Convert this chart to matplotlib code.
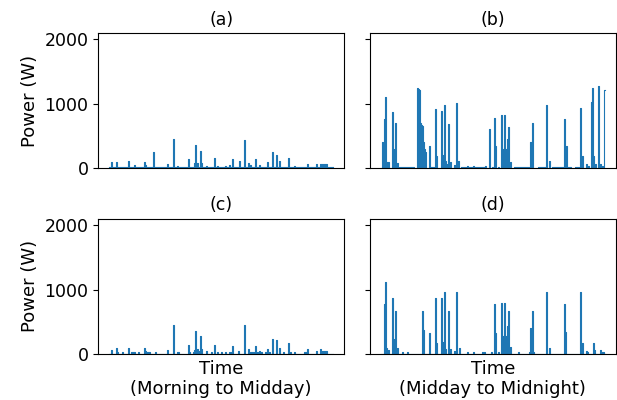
import matplotlib
matplotlib.use("Agg")
import matplotlib.pyplot as plt
import numpy as np

# Number of time samples per panel (one day split in two halves)
n_samples = 224

# (a) Morning to midday, aggregate
a_idx = [2, 7, 19, 25, 35, 36, 44, 58, 64, 68, 79, 85, 86, 88, 91, 92, 97, 105, 108,
         116, 120, 123, 130, 135, 139, 141, 146, 150, 158, 163, 167, 170, 179, 185,
         198, 207, 211, 212, 213, 214, 215, 216, 217, 222]
a_w = [93, 93, 120, 50, 100, 50, 255, 65, 460, 45, 140, 90, 362, 80, 275, 80, 45, 165, 45,
       45, 50, 140, 120, 440, 90, 50, 140, 50, 93, 255, 212, 120, 165, 45,
       65, 65, 65, 65, 65, 65, 65, 65, 65, 30]
a_base = [(0, 223, 25)]

# (b) Midday to midnight, aggregate
b_idx = [1, 3, 4, 5, 6, 7, 11, 12, 13, 14, 16, 36, 37, 38, 39, 40, 41, 42, 43, 44, 48,
         54, 55, 60, 61, 63, 64, 66, 67, 69, 73, 75, 77, 86, 92, 104, 108, 111, 113, 114,
         117, 120, 121, 122, 123, 124, 125, 126, 127, 129, 149, 150, 151, 165, 168, 183,
         185, 199, 201, 205, 207, 210, 211, 212, 214, 217, 219, 221, 223]
b_w = [406, 760, 1100, 94, 94, 94, 875, 300, 250, 708, 83, 1240, 1230, 1220, 708, 680,
       656, 411, 300, 250, 344, 917, 188, 896, 208, 990, 120, 70, 688, 95, 60, 1010, 110,
       40, 40, 45, 604, 30, 781, 344, 30, 823, 302, 302, 823, 302, 302, 458, 646, 95,
       406, 406, 708, 984, 110, 760, 344, 937, 188, 68, 45, 1031, 1240, 188, 68, 1281,
       68, 45, 1219]
b_base = [(18, 32, 30), (49, 52, 30), (80, 84, 30), (87, 104, 25), (133, 147, 25),
          (157, 164, 25), (171, 182, 25), (186, 189, 30), (194, 197, 25)]

# (c) Morning to midday, appliance
c_idx = [2, 7, 8, 13, 19, 29, 35, 36, 46, 58, 64, 79, 80, 84, 85, 86, 88, 89, 91, 92,
         97, 102, 105, 108, 112, 116, 120, 122, 123, 129, 135, 139, 146, 148, 150, 152,
         156, 158, 160, 163, 167, 170, 174, 179, 181, 185, 198, 207, 211]
c_w = [69, 96, 30, 25, 96, 30, 96, 50, 30, 69, 452, 138, 30, 30, 69, 356, 80, 40, 282, 85,
       45, 30, 138, 30, 30, 30, 30, 30, 122, 50, 452, 74, 122, 30, 50, 30,
       30, 74, 30, 234, 218, 96, 30, 170, 30, 30, 74, 50, 74]
c_base = [(22, 25, 32), (38, 40, 30), (68, 69, 30), (141, 144, 30), (195, 197, 30),
          (213, 217, 53)]

# (d) Midday to midnight, appliance
d_idx = [3, 4, 5, 7, 11, 13, 14, 16, 21, 26, 41, 42, 48, 54, 55, 60, 61, 63, 64, 67, 69,
         73, 75, 78, 86, 92, 101, 103, 110, 113, 114, 117, 120, 121, 122, 123, 124, 125,
         126, 127, 129, 137, 148, 149, 151, 152, 165, 168, 183, 184, 199, 201, 205, 206,
         212, 213, 219, 221, 222]
d_w = [768, 1110, 95, 60, 873, 226, 663, 90, 32, 32, 663, 368, 321, 873, 163, 873, 190,
       968, 84, 663, 84, 42, 968, 95, 32, 32, 32, 32, 32, 768, 326, 32, 790, 279, 279,
       790, 279, 279, 437, 663, 110, 32, 32, 410, 663, 25, 968, 95, 768, 347, 968, 163,
       53, 32, 163, 68, 68, 32, 25]
d_base = []

panels = [("(a)", a_idx, a_w, a_base), ("(b)", b_idx, b_w, b_base),
          ("(c)", c_idx, c_w, c_base), ("(d)", d_idx, d_w, d_base)]

plt.rcParams["font.size"] = 12.5

fig, axes = plt.subplots(2, 2, figsize=(6.17, 4.0), dpi=100, sharex=True, sharey=True)
fig.subplots_adjust(left=0.159, right=0.998, top=0.9175, bottom=0.115,
                    wspace=0.105, hspace=0.37)

blue = "#1f77b4"
for ax, (title, idx, watts, base) in zip(axes.flat, panels):
    p = np.zeros(n_samples)
    for start, end, level in base:
        p[start:end + 1] = level
    p[idx] = watts
    t = np.arange(n_samples)
    ax.fill_between(t, 0, p, step="mid", color=blue, linewidth=0)
    ax.plot(t, p, color=blue, linewidth=0.8, drawstyle="steps-mid")
    ax.set_title(title, fontsize=12.5)
    ax.set_xticks([])
    ax.set_ylim(0, 2100)
    ax.set_yticks([0, 1000, 2000])

axes[0, 0].set_ylabel("Power (W)", fontsize=13)
axes[1, 0].set_ylabel("Power (W)", fontsize=13)
axes[1, 0].set_xlabel("Time\n(Morning to Midday)", fontsize=13)
axes[1, 1].set_xlabel("Time\n(Midday to Midnight)", fontsize=13)

fig.savefig("out.png", dpi=100)
